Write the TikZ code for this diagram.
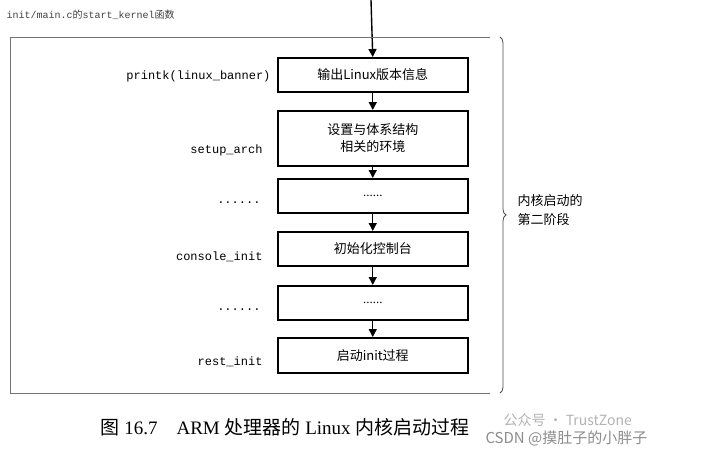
\documentclass[tikz,border=0pt]{standalone}
\usepackage{fontspec}
\setmainfont{Liberation Serif}
\setmonofont{Liberation Mono}
\newfontfamily\cjk{Noto Sans CJK SC}
\usetikzlibrary{decorations.pathreplacing,arrows.meta}
\begin{document}
\begin{tikzpicture}[x=1pt,y=-1pt,
  box/.style={draw,line width=1.5pt,minimum width=190pt,anchor=north west,align=center,font=\cjk\fontsize{13}{17}\selectfont,inner sep=0pt},
  lab/.style={anchor=east,font=\ttfamily\fontsize{12}{14}\selectfont},
  arr/.style={line width=1.4pt,-{Triangle[length=8pt,width=8pt]}}]
\useasboundingbox (0,0) rectangle (710,458);
\node[box,minimum height=34pt] (b1) at (277,57) {输出Linux版本信息};
\node[box,minimum height=55pt] (b2) at (277,110) {设置与体系结构\\相关的环境};
\node[box,minimum height=34pt] (b3) at (277,178) {\rmfamily ......};
\node[box,minimum height=34pt] (b4) at (277,231) {初始化控制台};
\node[box,minimum height=34pt] (b5) at (277,285) {\rmfamily ......};
\node[box,minimum height=35pt] (b6) at (277,337) {启动init过程};
\coordinate (top) at (371,0);
\draw[arr] (top) -- (b1.north);
\draw[arr] (b1) -- (b2);
\draw[arr] (b2) -- (b3);
\draw[arr] (b3) -- (b4);
\draw[arr] (b4) -- (b5);
\draw[arr] (b5) -- (b6);
\node[lab] (l1) at (274,76) {printk(linux\_banner)};
\node[lab] (l2) at (266,150) {setup\_arch};
\node[lab] (l3) at (264,203) {......};
\node[lab] (l4) at (266,257) {console\_init};
\node[lab] (l5) at (264,310) {......};
\node[lab] (l6) at (266,362) {rest\_init};
\node[anchor=west,font=\cjk\fontsize{10}{12}\selectfont,text=black!75] (t) at (3,15) {\ttfamily init/main.c\cjk 的\ttfamily start\_kernel\cjk 函数};
\draw[black!55,line width=0.6pt] (490,37) -- (10,37) -- (10,393) -- (490,393);
\draw[black!70,line width=0.8pt,decorate,decoration={brace,amplitude=6pt}] (500,37) -- (500,393);
\node[anchor=west,align=left,font=\cjk\fontsize{13}{19}\selectfont] (r) at (514,210) {内核启动的\\第二阶段};
\node[anchor=west,font=\fontsize{19}{21}\selectfont] (cap) at (97,427) {{\cjk 图} 16.7\quad ARM {\cjk 处理器的} Linux {\cjk 内核启动过程}};
\node[anchor=west,font=\cjk\fontsize{14}{16}\selectfont,text=black!30] (w1) at (500,420) {公众号 · TrustZone};
\node[anchor=west,font=\cjk\fontsize{15}{17}\selectfont,text=black!45] (w2) at (482,438) {CSDN @摸肚子的小胖子};
\end{tikzpicture}
\end{document}
